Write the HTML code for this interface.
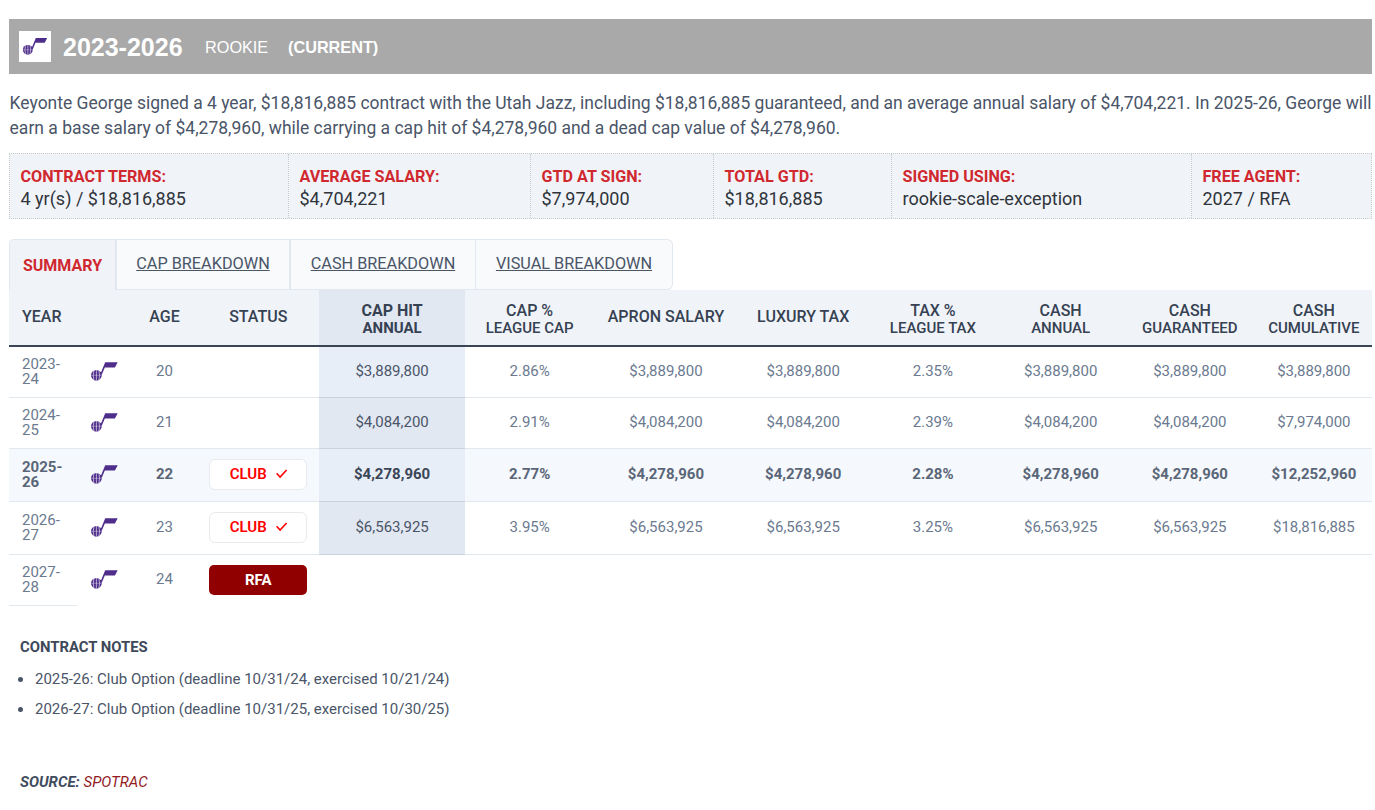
<!DOCTYPE html>
<html><head><meta charset="utf-8">
<style>
*{box-sizing:border-box;}
html,body{margin:0;padding:0;background:#fff;}
body{width:1375px;height:810px;overflow:hidden;position:relative;font-family:Roboto,"Liberation Sans",Arial,sans-serif;color:#4a5568;}
.bar{position:absolute;left:9px;top:19px;width:1363px;height:55px;background:#a9a9a9;font-family:"Liberation Sans",Arial,sans-serif;color:#fff;}
.bar .logo{position:absolute;left:10px;top:12px;width:32px;height:31px;background:#fff;}
.bar .logo svg{position:absolute;left:0;top:0;}
.bar .yr{position:absolute;left:54px;top:14px;font-weight:700;font-size:25px;line-height:28px;white-space:nowrap;}
.bar .rk{position:absolute;left:196px;top:19px;font-size:16.25px;line-height:18px;}
.bar .cur{position:absolute;left:279px;top:19px;font-size:16.25px;line-height:18px;font-weight:700;}
.desc{position:absolute;left:9.6px;top:90.7px;width:1366px;font-size:17.49px;line-height:25.8px;color:#4a5568;margin:0;}
.terms{position:absolute;left:9px;top:153px;width:1363px;height:66px;background:#f0f4f9;border:1px dotted #cbcbcb;display:flex;}
.terms .c{border-left:1px dotted #cbcbcb;padding:12.8px 0 0 10.5px;}
.terms .c:first-child{border-left:none;}
.terms .l{font-weight:700;font-size:16.15px;line-height:20px;color:#d0282f;white-space:nowrap;}
.terms .v{font-size:18px;line-height:23.6px;color:#30343b;white-space:nowrap;}
.tabs{position:absolute;left:9px;top:239px;height:52px;display:flex;}
.tab{height:51px;border:1px solid #e2e8f0;background:#f8fafc;font-size:16.25px;line-height:48px;padding:0.4px 0 0 0;text-align:center;color:#4a5568;text-decoration:underline;text-underline-offset:1px;white-space:nowrap;}
.tab.act{border-left:1px solid #e2e8f0;border-bottom:none;height:52px;background:#f0f4f9;color:#d0282f;font-weight:700;font-size:16px;text-decoration:none;border-top-left-radius:5px;padding-top:2px;}
.tab.last{border-left:none;border-top-right-radius:6px;border-bottom-right-radius:6px;}
table{position:absolute;left:9px;top:290px;border-collapse:collapse;table-layout:fixed;width:1363px;}
th{background:#f0f4f9;height:56px;padding:0 0 2px 0;font-weight:500;font-size:16px;line-height:17px;color:#364152;border-bottom:2px solid #3a4556;text-align:center;}
th.sm{padding:4px 0 0 0;line-height:17.3px;}
th.sm span{font-size:15px;}
th.hl{background:#e2e8f2;font-weight:700;}
th.left{text-align:left;padding-left:13px;}
td{height:51px;padding:0 0 1px 0;border-bottom:1px solid #e2e8f0;text-align:center;font-size:15px;color:#6b7a90;}
td.hl{background:#e8eef8;color:#4a5568;border-bottom-color:#c9d2df;}
tbody tr:nth-child(even) td.hl{background:#e2e8f2;}
td.yr{text-align:left;padding:1px 0 0 13px;line-height:15px;}
tr.tall td{height:53px;}
tr.cur td{background:#f5f8fc;font-weight:700;color:#5a6678;}
tr.cur td.hl{background:#e8eef8;color:#3a4556;}
tr.last td{border-bottom:none;}
tr.last td.yr{border-bottom:1px solid #e2e8f0;}
.badge{position:relative;top:0.5px;display:block;margin:0 auto;width:98px;height:31px;border:1px solid #e8eaee;border-radius:6px;background:#fff;color:#f00;font-weight:600;font-size:15px;line-height:28.5px;padding-right:20px;text-align:center;vertical-align:middle;}
.badge svg{position:absolute;left:66px;top:9.3px;}
.rfa{position:relative;top:0.8px;display:block;margin:0 auto;width:98px;height:30px;border-radius:5px;background:#910000;color:#fff;font-weight:700;font-size:15px;line-height:30px;vertical-align:middle;}
.lg{display:block;margin:0 auto;}
.notes{position:absolute;left:20px;top:637px;}
.notes h4{margin:0;font-size:14.85px;font-weight:700;line-height:20px;color:#3d4859;}
.notes ul{margin:11.7px 0 0 0;padding:0;list-style:none;}
.notes li{position:relative;padding-left:15px;margin-bottom:10.3px;font-size:15px;line-height:20px;color:#4a5568;}
.notes li:before{content:"";position:absolute;left:-1.7px;top:8.5px;width:5px;height:5px;border-radius:50%;background:#4a5568;}
.src{position:absolute;left:20px;top:772.2px;font-size:15px;font-style:italic;line-height:20px;}
.src b{color:#404c5e;}
.src span{color:#921a1e;}
</style></head>
<body>
<div class="bar">
  <div class="logo"><svg width="32" height="31" viewBox="0 0 32 31"><g transform="translate(-0.65,3.1) scale(0.91)"><circle cx="10.4" cy="17.3" r="5.4" fill="#4e2d8b"/><path d="M19.2 4.2H31.7L28.9 9.6H18.8L15.9 16.6L13.2 14.8L15.1 14.2Z" fill="#4e2d8b"/><path d="M10.4 11.9V22.7M7.9 12.6Q6.6 17.3 7.9 22M12.9 12.6Q14.2 17.3 12.9 22" stroke="#fff" stroke-width="0.6" fill="none"/><path d="M5 17.3H15.8" stroke="#fff" stroke-width="0.35" fill="none"/></g></svg></div>
  <div class="yr">2023-2026</div>
  <div class="rk">ROOKIE</div>
  <div class="cur">(CURRENT)</div>
</div>
<p class="desc">Keyonte George signed a 4 year, $18,816,885 contract with the Utah Jazz, including $18,816,885 guaranteed, and an average annual salary of $4,704,221. In 2025-26, George will earn a base salary of $4,278,960, while carrying a cap hit of $4,278,960 and a dead cap value of $4,278,960.</p>
<div class="terms">
  <div class="c" style="width:278px"><div class="l">CONTRACT TERMS:</div><div class="v">4 yr(s) / $18,816,885</div></div>
  <div class="c" style="width:242px"><div class="l">AVERAGE SALARY:</div><div class="v">$4,704,221</div></div>
  <div class="c" style="width:183px"><div class="l">GTD AT SIGN:</div><div class="v">$7,974,000</div></div>
  <div class="c" style="width:178px"><div class="l">TOTAL GTD:</div><div class="v">$18,816,885</div></div>
  <div class="c" style="width:300px"><div class="l">SIGNED USING:</div><div class="v">rookie-scale-exception</div></div>
  <div class="c" style="flex:1"><div class="l">FREE AGENT:</div><div class="v">2027 / RFA</div></div>
</div>
<div class="tabs">
  <div class="tab act" style="width:107px">SUMMARY</div>
  <div class="tab" style="width:174px">CAP BREAKDOWN</div>
  <div class="tab" style="width:186px">CASH BREAKDOWN</div>
  <div class="tab last" style="width:197px">VISUAL BREAKDOWN</div>
</div>
<table>
<colgroup>
<col style="width:68px"><col style="width:54.6px"><col style="width:65.8px"><col style="width:121.6px"><col style="width:146px"><col style="width:129px"><col style="width:143.6px"><col style="width:130.8px"><col style="width:128.6px"><col style="width:126.8px"><col style="width:131.6px"><col style="width:116.2px">
</colgroup>
<thead><tr>
<th class="left">YEAR</th><th></th><th>AGE</th><th>STATUS</th>
<th class="hl sm">CAP HIT<br><span>ANNUAL</span></th>
<th class="sm">CAP %<br><span>LEAGUE CAP</span></th>
<th>APRON SALARY</th><th>LUXURY TAX</th>
<th class="sm">TAX %<br><span>LEAGUE TAX</span></th>
<th class="sm">CASH<br><span>ANNUAL</span></th>
<th class="sm">CASH<br><span>GUARANTEED</span></th>
<th class="sm">CASH<br><span>CUMULATIVE</span></th>
</tr></thead>
<tbody>
<tr><td class="yr">2023-<br>24</td><td class="lgc"><svg class="lg" width="36" height="26" viewBox="0 0 36 26"><circle cx="10.4" cy="17.3" r="5.4" fill="#4e2d8b"/><path d="M19.2 4.2H31.7L28.9 9.6H18.8L15.9 16.6L13.2 14.8L15.1 14.2Z" fill="#4e2d8b"/><path d="M10.4 11.9V22.7M7.9 12.6Q6.6 17.3 7.9 22M12.9 12.6Q14.2 17.3 12.9 22" stroke="#fff" stroke-width="0.6" fill="none"/><path d="M5 17.3H15.8" stroke="#fff" stroke-width="0.35" fill="none"/></svg></td><td>20</td><td></td><td class="hl">$3,889,800</td><td>2.86%</td><td>$3,889,800</td><td>$3,889,800</td><td>2.35%</td><td>$3,889,800</td><td>$3,889,800</td><td>$3,889,800</td></tr>
<tr><td class="yr">2024-<br>25</td><td class="lgc"><svg class="lg" width="36" height="26" viewBox="0 0 36 26"><circle cx="10.4" cy="17.3" r="5.4" fill="#4e2d8b"/><path d="M19.2 4.2H31.7L28.9 9.6H18.8L15.9 16.6L13.2 14.8L15.1 14.2Z" fill="#4e2d8b"/><path d="M10.4 11.9V22.7M7.9 12.6Q6.6 17.3 7.9 22M12.9 12.6Q14.2 17.3 12.9 22" stroke="#fff" stroke-width="0.6" fill="none"/><path d="M5 17.3H15.8" stroke="#fff" stroke-width="0.35" fill="none"/></svg></td><td>21</td><td></td><td class="hl">$4,084,200</td><td>2.91%</td><td>$4,084,200</td><td>$4,084,200</td><td>2.39%</td><td>$4,084,200</td><td>$4,084,200</td><td>$7,974,000</td></tr>
<tr class="cur tall"><td class="yr">2025-<br>26</td><td class="lgc"><svg class="lg" width="36" height="26" viewBox="0 0 36 26"><circle cx="10.4" cy="17.3" r="5.4" fill="#4e2d8b"/><path d="M19.2 4.2H31.7L28.9 9.6H18.8L15.9 16.6L13.2 14.8L15.1 14.2Z" fill="#4e2d8b"/><path d="M10.4 11.9V22.7M7.9 12.6Q6.6 17.3 7.9 22M12.9 12.6Q14.2 17.3 12.9 22" stroke="#fff" stroke-width="0.6" fill="none"/><path d="M5 17.3H15.8" stroke="#fff" stroke-width="0.35" fill="none"/></svg></td><td>22</td><td><span class="badge">CLUB<svg width="12" height="10" viewBox="0 0 12 10"><path d="M0.6 4.3L4.1 8L10.6 1" stroke="#f00" stroke-width="1.6" fill="none"/></svg></span></td><td class="hl">$4,278,960</td><td>2.77%</td><td>$4,278,960</td><td>$4,278,960</td><td>2.28%</td><td>$4,278,960</td><td>$4,278,960</td><td>$12,252,960</td></tr>
<tr class="tall"><td class="yr">2026-<br>27</td><td class="lgc"><svg class="lg" width="36" height="26" viewBox="0 0 36 26"><circle cx="10.4" cy="17.3" r="5.4" fill="#4e2d8b"/><path d="M19.2 4.2H31.7L28.9 9.6H18.8L15.9 16.6L13.2 14.8L15.1 14.2Z" fill="#4e2d8b"/><path d="M10.4 11.9V22.7M7.9 12.6Q6.6 17.3 7.9 22M12.9 12.6Q14.2 17.3 12.9 22" stroke="#fff" stroke-width="0.6" fill="none"/><path d="M5 17.3H15.8" stroke="#fff" stroke-width="0.35" fill="none"/></svg></td><td>23</td><td><span class="badge">CLUB<svg width="12" height="10" viewBox="0 0 12 10"><path d="M0.6 4.3L4.1 8L10.6 1" stroke="#f00" stroke-width="1.6" fill="none"/></svg></span></td><td class="hl">$6,563,925</td><td>3.95%</td><td>$6,563,925</td><td>$6,563,925</td><td>3.25%</td><td>$6,563,925</td><td>$6,563,925</td><td>$18,816,885</td></tr>
<tr class="last"><td class="yr">2027-<br>28</td><td class="lgc"><svg class="lg" width="36" height="26" viewBox="0 0 36 26"><circle cx="10.4" cy="17.3" r="5.4" fill="#4e2d8b"/><path d="M19.2 4.2H31.7L28.9 9.6H18.8L15.9 16.6L13.2 14.8L15.1 14.2Z" fill="#4e2d8b"/><path d="M10.4 11.9V22.7M7.9 12.6Q6.6 17.3 7.9 22M12.9 12.6Q14.2 17.3 12.9 22" stroke="#fff" stroke-width="0.6" fill="none"/><path d="M5 17.3H15.8" stroke="#fff" stroke-width="0.35" fill="none"/></svg></td><td>24</td><td><span class="rfa">RFA</span></td><td colspan="8" style="background:#fff"></td></tr>
</tbody>
</table>
<div class="notes">
  <h4>CONTRACT NOTES</h4>
  <ul>
    <li>2025-26: Club Option (deadline 10/31/24, exercised 10/21/24)</li>
    <li>2026-27: Club Option (deadline 10/31/25, exercised 10/30/25)</li>
  </ul>
</div>
<div class="src"><b>SOURCE:</b> <span>SPOTRAC</span></div>
</body></html>
